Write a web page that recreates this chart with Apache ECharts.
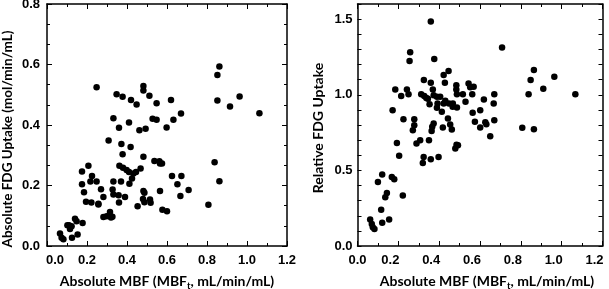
<!DOCTYPE html>
<html>
<head>
<meta charset="utf-8">
<script src="https://cdn.jsdelivr.net/npm/echarts@6/dist/echarts.min.js"></script>
<style>
  html, body { margin: 0; padding: 0; background: #fff; }
  #chart { width: 609px; height: 289px; }
</style>
</head>
<body>
<div id="chart"></div>
<script>
// left panel: absolute MBF vs absolute FDG uptake
var absMbfA = [0.248, 0.348, 0.378, 0.42, 0.448, 0.482, 0.482, 0.512, 0.548, 0.62,
    0.332, 0.36, 0.41, 0.528, 0.548, 0.632, 0.67, 0.462, 0.493, 0.598,
    0.308, 0.372, 0.418, 0.378, 0.482, 0.362, 0.38, 0.398, 0.41, 0.445,
    0.468, 0.432, 0.425, 0.412, 0.332, 0.37, 0.175, 0.207, 0.225, 0.217,
    0.248, 0.175, 0.185, 0.27, 0.282, 0.195, 0.222, 0.257, 0.257, 0.328,
    0.332, 0.358, 0.36, 0.39, 0.482, 0.487, 0.48, 0.487, 0.515, 0.518,
    0.453, 0.565, 0.537, 0.562, 0.565, 0.575, 0.577, 0.6, 0.625, 0.652,
    0.672, 0.667, 0.708, 0.807, 0.838, 0.862, 0.862, 0.852, 0.852, 0.915,
    0.963, 1.062, 0.282, 0.298, 0.315, 0.327, 0.32, 0.065, 0.073, 0.082,
    0.11, 0.115, 0.123, 0.125, 0.14, 0.148, 0.153, 0.178, 0.102];
var fdgAbs = [0.525, 0.502, 0.493, 0.483, 0.468, 0.529, 0.514, 0.497, 0.472, 0.483,
    0.422, 0.391, 0.408, 0.421, 0.417, 0.417, 0.438, 0.383, 0.388, 0.392,
    0.349, 0.337, 0.327, 0.303, 0.295, 0.265, 0.259, 0.251, 0.245, 0.245,
    0.256, 0.24, 0.223, 0.206, 0.213, 0.213, 0.246, 0.265, 0.231, 0.213,
    0.213, 0.204, 0.178, 0.188, 0.162, 0.146, 0.144, 0.14, 0.137, 0.187,
    0.17, 0.168, 0.144, 0.162, 0.182, 0.176, 0.155, 0.145, 0.154, 0.143,
    0.131, 0.182, 0.281, 0.28, 0.273, 0.273, 0.12, 0.115, 0.231, 0.204,
    0.231, 0.165, 0.185, 0.136, 0.277, 0.214, 0.593, 0.565, 0.481, 0.461,
    0.494, 0.439, 0.096, 0.098, 0.112, 0.097, 0.094, 0.041, 0.027, 0.022,
    0.069, 0.056, 0.065, 0.027, 0.09, 0.082, 0.038, 0.076, 0.069];

// right panel: absolute MBF vs relative FDG uptake
var absMbfB = [0.359, 0.708, 0.258, 0.255, 0.376, 0.446, 0.422, 0.325, 0.359, 0.428,
    0.185, 0.242, 0.25, 0.214, 0.312, 0.327, 0.337, 0.353, 0.373, 0.369,
    0.389, 0.405, 0.392, 0.389, 0.413, 0.422, 0.448, 0.467, 0.484, 0.484,
    0.487, 0.487, 0.516, 0.529, 0.544, 0.552, 0.562, 0.569, 0.564, 0.575,
    0.601, 0.619, 0.601, 0.626, 0.631, 0.65, 0.667, 0.67, 0.67, 0.172,
    0.225, 0.278, 0.278, 0.271, 0.289, 0.307, 0.35, 0.366, 0.363, 0.373,
    0.418, 0.443, 0.454, 0.462, 0.485, 0.479, 0.492, 0.324, 0.32, 0.359,
    0.397, 0.193, 0.204, 0.807, 0.864, 0.838, 0.848, 0.864, 0.964, 0.91,
    1.067, 0.1, 0.121, 0.168, 0.18, 0.136, 0.144, 0.222, 0.116, 0.062,
    0.07, 0.075, 0.083, 0.121, 0.155, 0.345, 0.43, 0.466];
var fdgRel = [1.485, 1.312, 1.281, 1.223, 1.237, 1.157, 1.131, 1.097, 1.08, 1.08,
    1.035, 1.035, 1.004, 0.991, 1.004, 0.991, 0.978, 0.938, 0.996, 1.035,
    0.987, 0.987, 0.942, 0.914, 0.887, 0.942, 0.942, 0.942, 1.062, 1.035,
    1.004, 0.916, 1.004, 0.954, 1.075, 1.049, 1.004, 1.053, 0.881, 0.821,
    0.898, 0.969, 0.783, 0.819, 0.805, 0.726, 0.942, 1.004, 0.832, 0.898,
    0.838, 0.838, 0.799, 0.765, 0.677, 0.699, 0.699, 0.788, 0.761, 0.81,
    0.783, 0.843, 0.803, 0.77, 0.67, 0.644, 0.666, 0.588, 0.549, 0.573,
    0.588, 0.681, 0.597, 0.781, 0.772, 1.004, 1.097, 1.164, 1.119, 1.04,
    1.004, 0.423, 0.473, 0.456, 0.442, 0.323, 0.35, 0.334, 0.239, 0.175,
    0.146, 0.124, 0.113, 0.153, 0.175, 0.973, 0.96, 0.92];

var xTicks = ['0.0', '0.2', '0.4', '0.6', '0.8', '1.0', '1.2'];

function pairs(xs, ys) {
    var out = [];
    for (var i = 0; i < xs.length; i++) out.push([xs[i], ys[i]]);
    return out;
}

var chart = echarts.init(document.getElementById('chart'), null, {renderer: 'canvas'});

var lineStyle = {color: '#000', width: 1.5};
var labelFont = {color: '#000', fontFamily: 'Liberation Sans', fontWeight: 'bold', fontSize: 13};
var subStyle = {color: '#000', fontFamily: 'Lato', fontWeight: 'bold', fontSize: 9.5, padding: [9, 0, 0, 0]};

function frameAxis(grid, pos, opts) {
    var ax = {
        type: 'value', gridIndex: grid, position: pos,
        min: opts.min, max: opts.max, interval: opts.interval,
        axisLine: {show: true, onZero: false, lineStyle: lineStyle},
        axisTick: {show: true, inside: true, length: opts.tickLen || 5, lineStyle: {color: '#000', width: 1}},
        minorTick: {show: !!opts.minor, splitNumber: opts.minor || 2, length: 3, lineStyle: {color: '#000', width: 1}},
        axisLabel: {show: false},
        splitLine: {show: false}
    };
    if (opts.label) ax.axisLabel = opts.label;
    if (opts.name) {
        ax.name = opts.name;
        ax.nameLocation = 'middle';
        ax.nameGap = opts.nameGap;
        ax.nameTextStyle = opts.nameStyle;
    }
    return ax;
}

var xTitle = 'Absolute MBF (MBF{sub|t}, mL/min/mL)';

var option = {
    animation: false,
    grid: [
        {left: 47, top: 4, width: 240, height: 242, outerBoundsMode: 'none', containLabel: false},
        {left: 357.5, top: 4, width: 245, height: 242, outerBoundsMode: 'none', containLabel: false}
    ],
    xAxis: [
        frameAxis(0, 'bottom', {
            min: 0, max: 1.2, interval: 0.2, minor: 2,
            label: {show: true, margin: 8, textStyle: labelFont,
                formatter: function (v) {
                    var s = xTicks[Math.round(v / 0.2)];
                    return v === 0 ? '{first|' + s + '}' : s;
                },
                rich: {first: {fontFamily: 'Liberation Sans', fontWeight: 'bold', fontSize: 13, color: '#000', padding: [0, 0, 0, 16]}}},
            name: xTitle, nameGap: 26,
            nameStyle: {color: '#000', fontFamily: 'Lato', fontWeight: 'bold', fontSize: 14,
                rich: {sub: subStyle}}
        }),
        frameAxis(0, 'top', {min: 0, max: 1.2, interval: 0.2, minor: 2}),
        frameAxis(1, 'bottom', {
            min: 0, max: 1.2, interval: 0.2, minor: 2,
            label: {show: true, margin: 8, textStyle: labelFont,
                formatter: function (v) {
                    var s = xTicks[Math.round(v / 0.2)];
                    return v === 0 ? s : '{shift|' + s + '}';
                },
                rich: {shift: {fontFamily: 'Liberation Sans', fontWeight: 'bold', fontSize: 13, color: '#000', padding: [0, 16, 0, 0]}}},
            name: xTitle, nameGap: 26,
            nameStyle: {color: '#000', fontFamily: 'Lato', fontWeight: 'bold', fontSize: 14,
                padding: [0, 0, 0, 14], rich: {sub: subStyle}}
        }),
        frameAxis(1, 'top', {min: 0, max: 1.2, interval: 0.2, minor: 2})
    ],
    yAxis: [
        frameAxis(0, 'left', {
            min: 0, max: 0.8, interval: 0.2, minor: 3,
            label: {show: true, margin: 7, textStyle: labelFont,
                formatter: function (v) { return v.toFixed(1); }},
            name: 'Absolute FDG Uptake (mol/min/mL)', nameGap: 32,
            nameStyle: {color: '#000', fontFamily: 'Lato', fontWeight: 'bold', fontSize: 13.5, padding: [0, 28, 0, 0]}
        }),
        frameAxis(0, 'right', {min: 0, max: 0.8, interval: 0.2, minor: 3}),
        frameAxis(1, 'left', {
            min: 0, max: 1.6, interval: 0.1, tickLen: 4,
            label: {show: true, margin: 5, textStyle: labelFont,
                formatter: function (v) {
                    var r = Math.round(v * 10);
                    return r % 5 === 0 ? (r / 10).toFixed(1) : '';
                }},
            name: 'Relative FDG Uptake', nameGap: 32,
            nameStyle: {color: '#000', fontFamily: 'Lato', fontWeight: 'bold', fontSize: 14, padding: [0, 6, 0, 0]}
        }),
        frameAxis(1, 'right', {min: 0, max: 1.6, interval: 0.1, tickLen: 4})
    ],
    series: [
        {
            type: 'scatter', xAxisIndex: 0, yAxisIndex: 0,
            symbol: 'circle', symbolSize: 6.5,
            itemStyle: {color: '#000', opacity: 1},
            data: pairs(absMbfA, fdgAbs)
        },
        {
            type: 'scatter', xAxisIndex: 2, yAxisIndex: 2,
            symbol: 'circle', symbolSize: 6.5,
            itemStyle: {color: '#000', opacity: 1},
            data: pairs(absMbfB, fdgRel)
        }
    ]
};

chart.setOption(option);
</script>
</body>
</html>
